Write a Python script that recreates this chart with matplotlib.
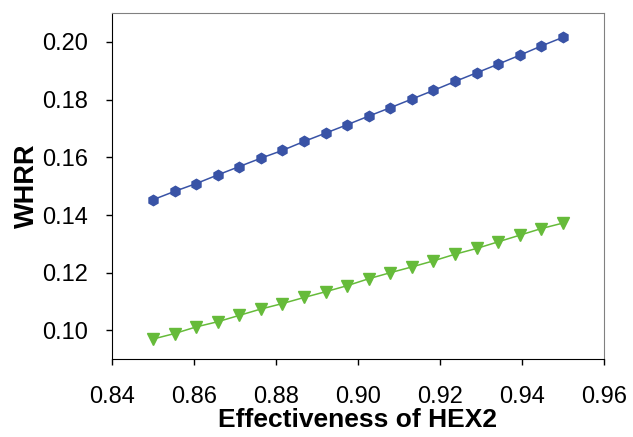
import matplotlib
matplotlib.use("Agg")
import matplotlib.pyplot as plt
import numpy as np

plt.rcParams['font.family'] = ['Liberation Sans', 'DejaVu Sans']

# effectiveness of HEX2, 20 points from 0.85 to 0.95
eff = np.linspace(0.85, 0.95, 20)

whrr_blue = [0.1453, 0.1482, 0.1509, 0.1539, 0.1568, 0.1597, 0.1624, 0.1655,
             0.1684, 0.1713, 0.1743, 0.1772, 0.1802, 0.1832, 0.1863, 0.1893,
             0.1923, 0.1954, 0.1986, 0.2016]
whrr_green = [0.0970, 0.0989, 0.1012, 0.1030, 0.1052, 0.1074, 0.1093, 0.1114,
              0.1134, 0.1155, 0.1179, 0.1200, 0.1220, 0.1241, 0.1264, 0.1284,
              0.1307, 0.1330, 0.1353, 0.1372]

xticks = [0.84, 0.86, 0.88, 0.90, 0.92, 0.94, 0.96]
yticks = [0.10, 0.12, 0.14, 0.16, 0.18, 0.20]

fig = plt.figure(figsize=(6.33, 4.37), dpi=100)
ax = fig.add_axes([0.177, 0.178, 0.777, 0.792])

ax.plot(eff, whrr_blue, color="#3953a6", marker="h", markersize=7.5, lw=1.1)
ax.plot(eff, whrr_green, color="#66bb3a", marker="v", markersize=8, lw=1.1)

ax.set_xlim(0.84, 0.96)
ax.set_ylim(0.09, 0.21)
ax.set_xticks(xticks)
ax.set_xticklabels(["%.2f" % t for t in xticks])
ax.set_yticks(yticks)
ax.set_yticklabels(["%.2f" % t for t in yticks])
ax.tick_params(direction="out", length=4, width=1, labelsize=17, colors="black")
ax.tick_params(axis="y", pad=13)
ax.tick_params(axis="x", pad=15)

for s in ["top", "right"]:
    ax.spines[s].set_color("#808080")
for s in ["left", "bottom"]:
    ax.spines[s].set_color("black")

ax.set_xlabel("Effectiveness of HEX2", fontsize=19, fontweight="bold", labelpad=0)
ax.set_ylabel("WHRR", fontsize=19.5, fontweight="bold", labelpad=2)

fig.savefig("out.png", dpi=100)
